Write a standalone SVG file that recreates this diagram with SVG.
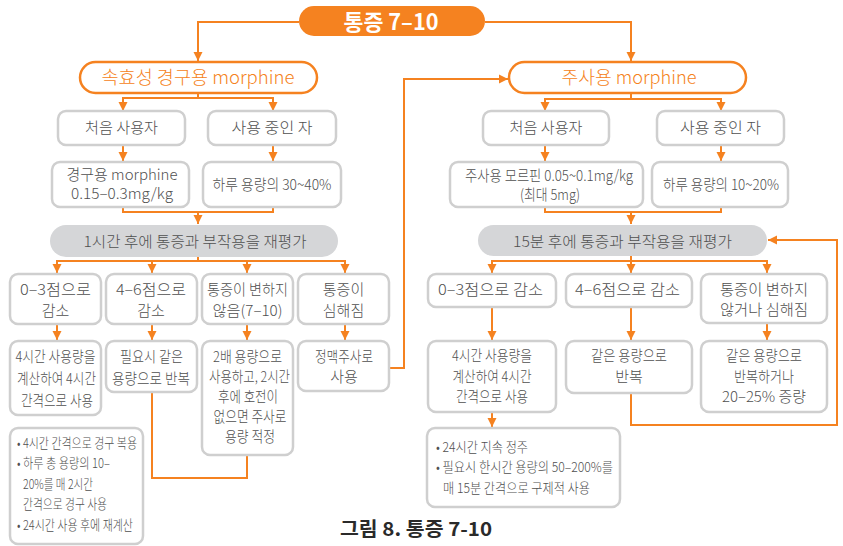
<svg xmlns="http://www.w3.org/2000/svg" width="843" height="546" viewBox="0 0 843 546">
<style>
.bx{fill:#fff;stroke:#cfcfcf;stroke-width:2.5}
.op{fill:#fff;stroke:#f58220;stroke-width:2.5}
.gp{fill:#d5d6d8}
.ln{fill:none;stroke:#f58220;stroke-width:2}
text{font-family:"Noto Sans CJK KR","Noto Sans",sans-serif;fill:#505050;font-size:15px;font-weight:300;text-anchor:middle}
.ot{fill:#f58220;font-size:18px}
.tt{fill:#fff;font-size:22px;font-weight:bold}
.nt{font-size:13.5px;text-anchor:start}
.cap{fill:#2a2a2a;font-size:19px;font-weight:bold}
</style>
<defs>
<marker id="ah" markerUnits="userSpaceOnUse" markerWidth="10" markerHeight="10" refX="9" refY="5" orient="auto">
<path d="M0,0.5 L9,5 L0,9.5 z" fill="#f58220"/>
</marker>
</defs>

<g id="connectors">
<path class="ln" d="M299,22 H198 V61" marker-end="url(#ah)"/>
<path class="ln" d="M485,22 H631 V61" marker-end="url(#ah)"/>
<path class="ln" d="M198,93 V98 H123 V111" marker-end="url(#ah)"/>
<path class="ln" d="M198,98 H273 V111" marker-end="url(#ah)"/>
<path class="ln" d="M123,145 V161" marker-end="url(#ah)"/>
<path class="ln" d="M273,145 V161" marker-end="url(#ah)"/>
<path class="ln" d="M123,207 V212 H273 V207"/>
<path class="ln" d="M198,212 V224" marker-end="url(#ah)"/>
<path class="ln" d="M198,257 V261 H57 V273" marker-end="url(#ah)"/>
<path class="ln" d="M198,261 H345 V273" marker-end="url(#ah)"/>
<path class="ln" d="M152,261 V273" marker-end="url(#ah)"/>
<path class="ln" d="M247,261 V273" marker-end="url(#ah)"/>
<path class="ln" d="M57,324 V340" marker-end="url(#ah)"/>
<path class="ln" d="M152,324 V340" marker-end="url(#ah)"/>
<path class="ln" d="M247,324 V340" marker-end="url(#ah)"/>
<path class="ln" d="M345,324 V340" marker-end="url(#ah)"/>
<path class="ln" d="M152,392 V478 H247 V455"/>
<path class="ln" d="M389,368 H404 V79 H508" marker-end="url(#ah)"/>
<path class="ln" d="M631,93 V99 H545 V111" marker-end="url(#ah)"/>
<path class="ln" d="M631,99 H721 V111" marker-end="url(#ah)"/>
<path class="ln" d="M545,145 V161" marker-end="url(#ah)"/>
<path class="ln" d="M721,145 V161" marker-end="url(#ah)"/>
<path class="ln" d="M545,207 V212 H721 V207"/>
<path class="ln" d="M631,212 V224" marker-end="url(#ah)"/>
<path class="ln" d="M631,256 V261 H492 V273" marker-end="url(#ah)"/>
<path class="ln" d="M631,261 H767 V273" marker-end="url(#ah)"/>
<path class="ln" d="M631,261 V273" marker-end="url(#ah)"/>
<path class="ln" d="M492,307 V340" marker-end="url(#ah)"/>
<path class="ln" d="M631,307 V340" marker-end="url(#ah)"/>
<path class="ln" d="M767,323 V340" marker-end="url(#ah)"/>
<path class="ln" d="M492,412 V427" marker-end="url(#ah)"/>
<path class="ln" d="M631,393 V425 H837 V240 H768" marker-end="url(#ah)"/>
</g>

<g id="title">
<rect x="299" y="6" width="186" height="30" rx="15" fill="#f58220"/>
<text class="tt" x="391" y="29.5" textLength="95" lengthAdjust="spacingAndGlyphs">통증 7–10</text>
</g>

<g id="oral">
<rect class="op" x="80" y="62" width="237" height="31" rx="15.5"/>
<text class="ot" x="198" y="84" textLength="193" lengthAdjust="spacingAndGlyphs">속효성 경구용 morphine</text>
</g>
<g id="oral-first">
<rect class="bx" x="58" y="111" width="127" height="34" rx="8"/>
<text x="121.5" y="133" textLength="73" lengthAdjust="spacingAndGlyphs">처음 사용자</text>
</g>
<g id="oral-using">
<rect class="bx" x="208" y="111" width="128" height="34" rx="8"/>
<text x="272" y="133" textLength="81" lengthAdjust="spacingAndGlyphs">사용 중인 자</text>
</g>
<g id="oral-dose1">
<rect class="bx" x="52" y="162" width="137" height="45" rx="8"/>
<text x="122" y="180" textLength="111" lengthAdjust="spacingAndGlyphs">경구용 morphine</text>
<text x="122" y="199" textLength="102" lengthAdjust="spacingAndGlyphs">0.15–0.3mg/kg</text>
</g>
<g id="oral-dose2">
<rect class="bx" x="203" y="162" width="138" height="45" rx="8"/>
<text x="272" y="190" textLength="119" lengthAdjust="spacingAndGlyphs">하루 용량의 30~40%</text>
</g>
<g id="oral-reeval">
<rect class="gp" x="50" y="225" width="288" height="32" rx="16"/>
<text x="195" y="247" textLength="223" lengthAdjust="spacingAndGlyphs">1시간 후에 통증과 부작용을 재평가</text>
</g>
<g id="oral-r1">
<rect class="bx" x="10" y="274" width="91" height="50" rx="8"/>
<text x="55.5" y="295" textLength="71" lengthAdjust="spacingAndGlyphs">0–3점으로</text>
<text x="55.5" y="316">감소</text>
</g>
<g id="oral-r2">
<rect class="bx" x="106" y="274" width="91" height="50" rx="8"/>
<text x="151" y="295" textLength="70" lengthAdjust="spacingAndGlyphs">4–6점으로</text>
<text x="151" y="316">감소</text>
</g>
<g id="oral-r3">
<rect class="bx" x="202" y="274" width="91" height="50" rx="8"/>
<text x="247.5" y="295" textLength="81" lengthAdjust="spacingAndGlyphs">통증이 변하지</text>
<text x="247.5" y="316" textLength="70" lengthAdjust="spacingAndGlyphs">않음(7–10)</text>
</g>
<g id="oral-r4">
<rect class="bx" x="298" y="274" width="91" height="50" rx="8"/>
<text x="343.5" y="295">통증이</text>
<text x="343.5" y="316">심해짐</text>
</g>
<g id="oral-a1">
<rect class="bx" x="10" y="341" width="91" height="74" rx="8"/>
<text x="55.5" y="362" textLength="80" lengthAdjust="spacingAndGlyphs">4시간 사용량을</text>
<text x="56.5" y="384" textLength="79" lengthAdjust="spacingAndGlyphs">계산하여 4시간</text>
<text x="57" y="406" textLength="72" lengthAdjust="spacingAndGlyphs">간격으로 사용</text>
</g>
<g id="oral-a2">
<rect class="bx" x="106" y="341" width="91" height="51" rx="8"/>
<text x="151.5" y="362" textLength="63" lengthAdjust="spacingAndGlyphs">필요시 같은</text>
<text x="151" y="384" textLength="78" lengthAdjust="spacingAndGlyphs">용량으로 반복</text>
</g>
<g id="oral-a3">
<rect class="bx" x="202" y="341" width="91" height="114" rx="8"/>
<text x="247.5" y="362" textLength="69" lengthAdjust="spacingAndGlyphs">2배 용량으로</text>
<text x="249.5" y="382" textLength="81" lengthAdjust="spacingAndGlyphs">사용하고, 2시간</text>
<text x="248" y="402" textLength="60" lengthAdjust="spacingAndGlyphs">후에 호전이</text>
<text x="250" y="422" textLength="73" lengthAdjust="spacingAndGlyphs">없으면 주사로</text>
<text x="250" y="442" textLength="50" lengthAdjust="spacingAndGlyphs">용량 적정</text>
</g>
<g id="oral-a4">
<rect class="bx" x="298" y="341" width="91" height="50" rx="8"/>
<text x="344" y="362" textLength="58" lengthAdjust="spacingAndGlyphs">정맥주사로</text>
<text x="344" y="382">사용</text>
</g>
<g id="oral-note">
<rect class="bx" x="10" y="428" width="133" height="116" rx="8"/>
<text class="nt" x="17" y="448" textLength="120" lengthAdjust="spacingAndGlyphs">• 4시간 간격으로 경구 복용</text>
<text class="nt" x="17" y="468" textLength="93" lengthAdjust="spacingAndGlyphs">• 하루 총 용량의 10–</text>
<text class="nt" x="23" y="489" textLength="70" lengthAdjust="spacingAndGlyphs">20%를 매 2시간</text>
<text class="nt" x="23" y="509" textLength="84" lengthAdjust="spacingAndGlyphs">간격으로 경구 사용</text>
<text class="nt" x="17" y="530" textLength="116" lengthAdjust="spacingAndGlyphs">• 24시간 사용 후에 재계산</text>
</g>

<g id="inj">
<rect class="op" x="509" y="62" width="237" height="31" rx="15.5"/>
<text class="ot" x="629" y="84" textLength="135" lengthAdjust="spacingAndGlyphs">주사용 morphine</text>
</g>
<g id="inj-first">
<rect class="bx" x="483" y="111" width="126" height="34" rx="8"/>
<text x="546" y="133" textLength="73" lengthAdjust="spacingAndGlyphs">처음 사용자</text>
</g>
<g id="inj-using">
<rect class="bx" x="657" y="111" width="127" height="34" rx="8"/>
<text x="720.5" y="133" textLength="81" lengthAdjust="spacingAndGlyphs">사용 중인 자</text>
</g>
<g id="inj-dose1">
<rect class="bx" x="450" y="162" width="193" height="45" rx="8"/>
<text x="549" y="181" textLength="168" lengthAdjust="spacingAndGlyphs">주사용 모르핀 0.05~0.1mg/kg</text>
<text x="550" y="200" textLength="60" lengthAdjust="spacingAndGlyphs">(최대 5mg)</text>
</g>
<g id="inj-dose2">
<rect class="bx" x="652" y="162" width="136" height="45" rx="8"/>
<text x="721" y="190" textLength="116" lengthAdjust="spacingAndGlyphs">하루 용량의 10~20%</text>
</g>
<g id="inj-reeval">
<rect class="gp" x="478" y="225" width="289" height="31" rx="15.5"/>
<text x="622.5" y="247" textLength="219" lengthAdjust="spacingAndGlyphs">15분 후에 통증과 부작용을 재평가</text>
</g>
<g id="inj-r1">
<rect class="bx" x="428" y="274" width="128" height="33" rx="8"/>
<text x="490.5" y="295" textLength="105" lengthAdjust="spacingAndGlyphs">0–3점으로 감소</text>
</g>
<g id="inj-r2">
<rect class="bx" x="566" y="274" width="126" height="33" rx="8"/>
<text x="627.5" y="295" textLength="105" lengthAdjust="spacingAndGlyphs">4–6점으로 감소</text>
</g>
<g id="inj-r3">
<rect class="bx" x="701" y="274" width="126" height="49" rx="8"/>
<text x="764" y="295" textLength="88" lengthAdjust="spacingAndGlyphs">통증이 변하지</text>
<text x="764" y="315" textLength="88" lengthAdjust="spacingAndGlyphs">않거나 심해짐</text>
</g>
<g id="inj-a1">
<rect class="bx" x="428" y="341" width="128" height="71" rx="8"/>
<text x="492" y="361" textLength="80" lengthAdjust="spacingAndGlyphs">4시간 사용량을</text>
<text x="492" y="382" textLength="79" lengthAdjust="spacingAndGlyphs">계산하여 4시간</text>
<text x="492" y="402" textLength="72" lengthAdjust="spacingAndGlyphs">간격으로 사용</text>
</g>
<g id="inj-a2">
<rect class="bx" x="566" y="341" width="126" height="52" rx="8"/>
<text x="629" y="361" textLength="76" lengthAdjust="spacingAndGlyphs">같은 용량으로</text>
<text x="629" y="382">반복</text>
</g>
<g id="inj-a3">
<rect class="bx" x="701" y="341" width="126" height="71" rx="8"/>
<text x="764" y="361" textLength="76" lengthAdjust="spacingAndGlyphs">같은 용량으로</text>
<text x="764" y="382" textLength="60" lengthAdjust="spacingAndGlyphs">반복하거나</text>
<text x="764" y="402" textLength="84" lengthAdjust="spacingAndGlyphs">20–25% 증량</text>
</g>
<g id="inj-note">
<rect class="bx" x="427" y="428" width="193" height="79" rx="8"/>
<text class="nt" x="436" y="452" textLength="92" lengthAdjust="spacingAndGlyphs">• 24시간 지속 정주</text>
<text class="nt" x="436" y="472" textLength="177" lengthAdjust="spacingAndGlyphs">• 필요시 한시간 용량의 50–200%를</text>
<text class="nt" x="443" y="493" textLength="147" lengthAdjust="spacingAndGlyphs">매 15분 간격으로 구제적 사용</text>
</g>

<g id="caption">
<text class="cap" x="416" y="536" textLength="152" lengthAdjust="spacingAndGlyphs">그림 8. 통증 7-10</text>
</g>
</svg>
